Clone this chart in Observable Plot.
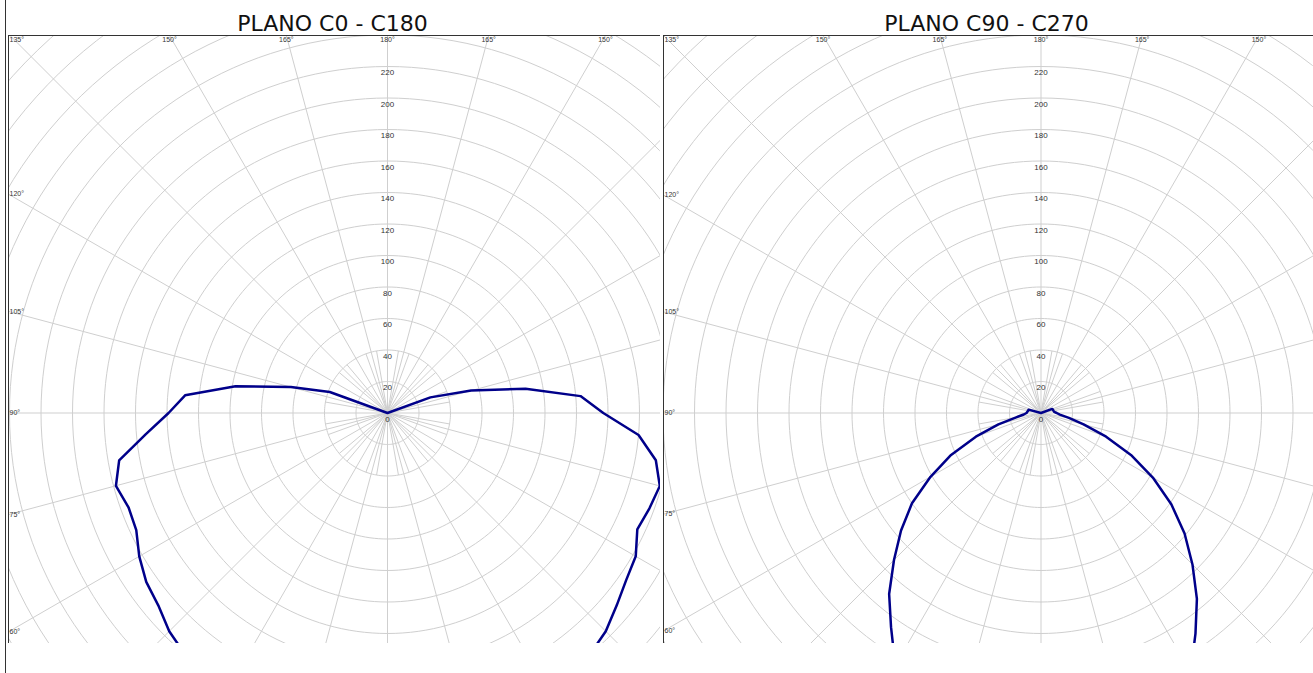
<!DOCTYPE html>
<html><head><meta charset="utf-8">
<script src="https://cdn.jsdelivr.net/npm/d3@7"></script>
<script src="https://cdn.jsdelivr.net/npm/@observablehq/plot@0.6"></script>
<style>
html,body{margin:0;padding:0;background:#fff}
body{width:1313px;height:673px;overflow:hidden;position:relative;font-family:"DejaVu Sans",Verdana,sans-serif}
.title{position:absolute;top:13px;font-size:22px;line-height:22px;color:#111;text-align:center;white-space:nowrap}
.panel{position:absolute;top:35px;height:608px;overflow:hidden}
.line{position:absolute;background:#333}
</style></head><body>
<div class="line" style="left:5px;top:0;width:1px;height:673px"></div>
<div id="t0" class="title" style="left:8px;width:649px"></div>
<div id="t1" class="title" style="left:663px;width:647px"></div>
<div id="p0" class="panel" style="left:8px;width:652px"></div>
<div id="p1" class="panel" style="left:663px;width:650px"></div>
<div class="line" style="left:8px;top:35px;width:652px;height:1px"></div>
<div class="line" style="left:8px;top:35px;width:1px;height:608px"></div>
<div class="line" style="left:663px;top:35px;width:650px;height:1px"></div>
<div class="line" style="left:663px;top:35px;width:1px;height:608px"></div>
<script>
// ---- data (gamma in degrees from nadir, intensity in cd/klm) ----
const titles = ["PLANO C0 - C180", "PLANO C90 - C270"];
const gammaA = [40,45,50,55,60,65,70,75,80,85,90,95,100,105,110,115,120,125,130,135,140,145,150,155,160,165,170,175,180];
const valuesC0   = [200,196,190,187,182,176,175,178.5,173,154,139,129,98,63.5,39,0,0,0,0,0,0,0,0,0,0,0,0,0,0];
const valuesC180 = [200,196,190,185,182,175,177,179,173,160,137,123,89,55,29,0,0,0,0,0,0,0,0,0,0,0,0,0,0];
const gammaB = [30,35,40,45,50,55,60,65,70,75,80,85,90,95,100,105,110,115,120,125,130,135,140,145,150,155,160,165,170,175,180];
const valuesC90  = [185,166,150,132,116,100,81,63,44,28,16,11,9.2,8.7,8.3,8.2,0,0,0,0,0,0,0,0,0,0,0,0,0,0,0];
const valuesC270 = [190,171,154,136,119,101,82,63,44,28,18,12,10,8.4,8.1,7.9,7.6,0,0,0,0,0,0,0,0,0,0,0,0,0,0];
const ringValues = [20,40,60,80,100,120,140,160,180,200,220,240,260,280,300,320,340];
const ringLabels = [0,20,40,60,80,100,120,140,160,180,200,220];
const majorSpokes = [0,15,30,45,60,75,90,105,120,135,150,165,180,195,210,225,240,255,270,285,300,315,330,345];
const minorSpokes = [10,20,40,50,70,80,100,110,130,140,160,170,190,200,220,230,250,260,280,290,310,320,340,350];
const angleLabelValues = [60,75,90,105,120,135,150,165,180];

// ---- styling / geometry ----
const PX = 1.575;           // pixels per unit
const MINOR_LEN = 40, MAJOR_LEN = 600;
const GRID = "#cfcfcf", CURVE = "#00008a", LABEL = "#333";
const rad = d => d * Math.PI / 180;

function curvePoints(gammas, left, right) {
  const pts = [];
  gammas.forEach((g, i) => pts.push({x: -left[i] * Math.sin(rad(g)), y: -left[i] * Math.cos(rad(g))}));
  for (let i = gammas.length - 1; i >= 0; --i) {
    const g = gammas[i];
    pts.push({x: right[i] * Math.sin(rad(g)), y: -right[i] * Math.cos(rad(g))});
  }
  return pts;
}

function drawPanel(el, width, height, cxPx, cyPx, gammas, left, right) {
  const xmin = -cxPx / PX, xmax = (width - cxPx) / PX;
  const ymax = cyPx / PX, ymin = -(height - cyPx) / PX;

  const rings = [];
  for (const v of ringValues) for (let a = 0; a <= 360; a += 2)
    rings.push({ring: v, x: v * Math.sin(rad(a)), y: -v * Math.cos(rad(a))});
  const spokes = [
    ...majorSpokes.map(a => ({x2: MAJOR_LEN * Math.sin(rad(a)), y2: -MAJOR_LEN * Math.cos(rad(a))})),
    ...minorSpokes.map(a => ({x2: MINOR_LEN * Math.sin(rad(a)), y2: -MINOR_LEN * Math.cos(rad(a))}))
  ];

  const topStart = [], topMid = [], leftLab = [];
  for (const side of [-1, 1]) for (const g of angleLabelValues) {
    if (side === 1 && g === 180) continue;
    let sx = side * Math.sin(rad(g)), sy = -Math.cos(rad(g));
    if (Math.abs(sx) < 1e-9) sx = 0;
    const tTop = sy > 1e-9 ? ymax / sy : Infinity;
    const tLeft = sx < -1e-9 ? xmin / sx : Infinity;
    const tRight = sx > 1e-9 ? xmax / sx : Infinity;
    const tBottom = sy < -1e-9 ? ymin / sy : Infinity;
    const t = Math.min(tTop, tLeft, tRight, tBottom);
    if (tTop <= t + 1e-3) {
      const xx = sx * tTop;
      ((xx - xmin) * PX < 20 ? topStart : topMid).push({x: xx, label: g + "°"});
    } else if (t === tLeft) {
      leftLab.push({y: sy * t, label: g + "°"});
    }
  }

  const svg = Plot.plot({
    width, height, margin: 0,
    style: {fontFamily: "'Liberation Sans', Arial, sans-serif", fontSize: "8px", background: "white"},
    x: {domain: [xmin, xmax], axis: null},
    y: {domain: [ymin, ymax], axis: null},
    marks: [
      Plot.line(rings, {x: "x", y: "y", z: "ring", stroke: GRID, strokeWidth: 1, clip: true}),
      Plot.link(spokes, {x1: () => 0, y1: () => 0, x2: "x2", y2: "y2", stroke: GRID, strokeWidth: 1, clip: true}),
      Plot.text(ringLabels, {x: () => 0, y: d => d, text: d => String(d), dy: 6, fill: LABEL, fontSize: 8, lineAnchor: "middle"}),
      Plot.text(topMid, {x: "x", y: () => ymax, text: "label", dy: 2, lineAnchor: "top", fill: LABEL, fontSize: 7}),
      Plot.text(topStart, {x: () => xmin, y: () => ymax, text: "label", dx: 1, dy: 2, lineAnchor: "top", textAnchor: "start", fill: LABEL, fontSize: 7}),
      Plot.text(leftLab, {x: () => xmin, y: "y", text: "label", dx: 1, lineAnchor: "middle", textAnchor: "start", fill: LABEL, fontSize: 7}),
      Plot.line(curvePoints(gammas, left, right), {x: "x", y: "y", stroke: CURVE, strokeWidth: 2.5, strokeLinejoin: "round", clip: true})
    ]
  });
  el.appendChild(svg);
}

document.getElementById("t0").textContent = titles[0];
document.getElementById("t1").textContent = titles[1];
drawPanel(document.getElementById("p0"), 652, 608, 379, 377.5, gammaA, valuesC0, valuesC180);
drawPanel(document.getElementById("p1"), 650, 608, 377.5, 377.5, gammaB, valuesC90, valuesC270);
</script>
</body></html>
